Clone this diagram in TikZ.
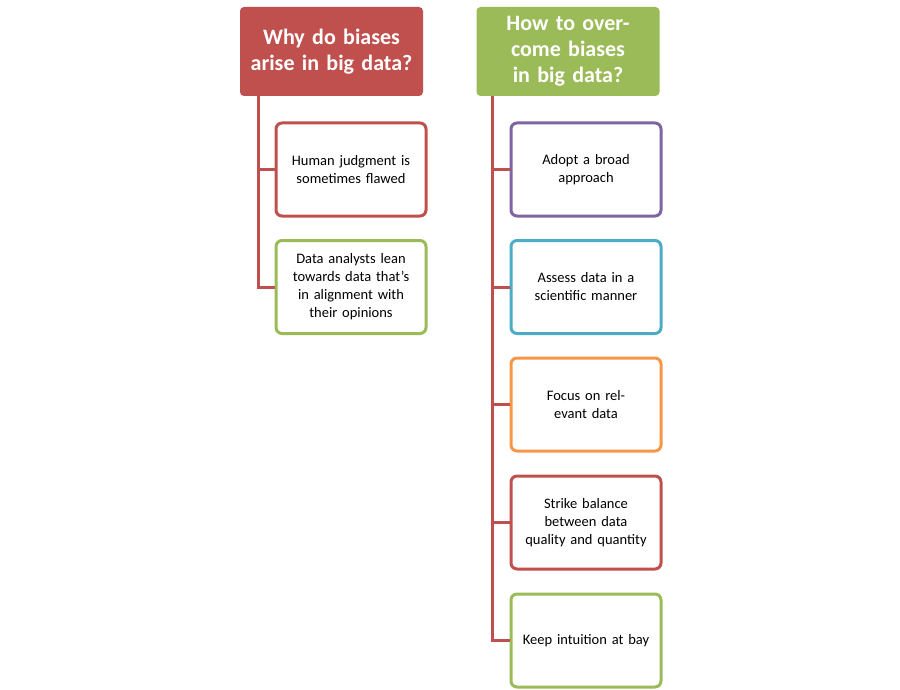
\documentclass[tikz,border=0pt]{standalone}
\usepackage{fontspec}
\setmainfont{Carlito}
\definecolor{cred}{HTML}{C0504D}
\definecolor{cgreen}{HTML}{9BBB59}
\definecolor{cpurple}{HTML}{8064A2}
\definecolor{cteal}{HTML}{4BACC6}
\definecolor{corange}{HTML}{F79646}
\begin{document}
\begin{tikzpicture}[x=1pt,y=-1pt]
\tikzstyle{head} = [rounded corners=4pt, minimum width=183pt, minimum height=89pt, text width=170pt, align=center, text=white, font=\fontsize{22}{26}\selectfont\bfseries, inner sep=0pt] % header box
\tikzstyle{item} = [draw, line width=3pt, rounded corners=6pt, fill=white, minimum width=150pt, minimum height=93pt, text width=136pt, align=center, font=\fontsize{14.5}{18}\selectfont, inner sep=0pt] % child box
\tikzstyle{tree} = [line width=3pt] % connector
\useasboundingbox (0,0) rectangle (900,690);

% Left column
\node[head, fill=cred] (why) at (331.5,51.5) {Why do biases arise in big data?};
\node[item, draw=cred] (w1) at (351,169.5) {Human judgment is sometimes flawed};
\node[item, draw=cgreen] (w2) at (351,287) {Data analysts lean towards data that's in alignment with their opinions};
\coordinate (wl) at (258,96);
\draw[tree, cred] (wl) |- (w2.west);
\draw[tree, cred] (wl |- w1.west) -- (w1.west);

% Right column
\node[head, fill=cgreen] (how) at (568,51.5) {How to overcome biases in big data?};
\node[item, draw=cpurple] (h1) at (586,169.5) {Adopt a broad approach};
\node[item, draw=cteal] (h2) at (586,287) {Assess data in a scientific manner};
\node[item, draw=corange] (h3) at (586,404.5) {Focus on relevant data};
\node[item, draw=cred] (h4) at (586,522.5) {Strike balance between data quality and quantity};
\node[item, draw=cgreen] (h5) at (586,640.5) {Keep intuition at bay};
\coordinate (hl) at (492,96);
\draw[tree, cred] (hl) |- (h5.west);
\foreach \n in {h1,h2,h3,h4}
  \draw[tree, cred] (hl |- \n.west) -- (\n.west);
\end{tikzpicture}
\end{document}
